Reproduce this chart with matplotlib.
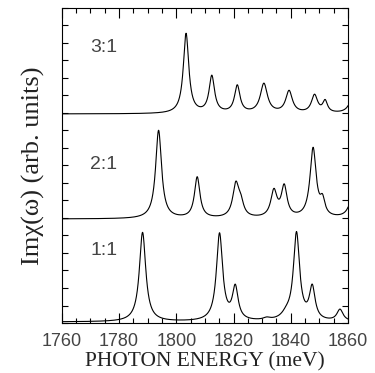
import numpy as np
import matplotlib
matplotlib.use("Agg")
import matplotlib.pyplot as plt
from matplotlib.ticker import MultipleLocator

# Peak parameters (position meV, height arb., half-width meV)
pos_31 = [1803.4, 1812.4, 1821.3, 1830.6, 1839.4, 1848.3, 1852.0, 1862.0]
amp_31 = [0.76, 0.35, 0.26, 0.28, 0.21, 0.17, 0.11, 0.20]
wid_31 = [1.15, 1.15, 1.15, 1.5, 1.4, 1.3, 1.0, 1.5]
base_31 = 1.99

pos_21 = [1793.8, 1807.3, 1820.8, 1822.5, 1834.1, 1837.7, 1847.8, 1851.1, 1862.0]
amp_21 = [0.84, 0.39, 0.31, 0.12, 0.25, 0.29, 0.66, 0.14, 0.28]
wid_21 = [1.25, 1.15, 1.3, 1.2, 1.3, 1.2, 1.3, 1.0, 1.5]
base_21 = 0.99

pos_11 = [1788.2, 1815.1, 1820.6, 1831.6, 1838.5, 1842.0, 1847.5, 1857.2]
amp_11 = [0.85, 0.83, 0.31, 0.02, 0.05, 0.83, 0.31, 0.11]
wid_11 = [1.35, 1.3, 1.2, 1.5, 2.0, 1.3, 1.2, 1.3]
base_11 = 0.01

labels = ["3:1", "2:1", "1:1"]
label_y = [2.62, 1.51, 0.695]
xticks = [1760, 1780, 1800, 1820, 1840, 1860]

energy = np.linspace(1760, 1860, 2001)


def spectrum(base, pos, amp, wid):
    y = np.full_like(energy, base)
    for p, a, w in zip(pos, amp, wid):
        y += a * w**2 / ((energy - p) ** 2 + w**2)
    return y


fig = plt.figure(figsize=(3.75, 3.73), dpi=100)
ax = fig.add_axes([0.165, 0.134, 0.763, 0.845])

for base, pos, amp, wid in [(base_31, pos_31, amp_31, wid_31),
                            (base_21, pos_21, amp_21, wid_21),
                            (base_11, pos_11, amp_11, wid_11)]:
    ax.plot(energy, spectrum(base, pos, amp, wid), color="black", lw=0.8)

for lab, yy in zip(labels, label_y):
    ax.text(1774.7, yy, lab, ha="center", va="center", fontsize=14,
            family=["Liberation Sans", "DejaVu Sans"],
            color="#444444")

ax.set_xlim(1760, 1860)
ax.set_ylim(0, 3)
ax.set_xticks(xticks)
ax.xaxis.set_minor_locator(MultipleLocator(5))
ax.yaxis.set_major_locator(MultipleLocator(1 / 6))
ax.set_yticklabels([])
ax.tick_params(axis="both", which="both", direction="in", top=True, right=True,
               width=0.8, colors="black")
ax.tick_params(axis="x", which="major", length=7)
ax.tick_params(axis="x", which="minor", length=3.5)
ax.tick_params(axis="y", which="major", length=4)
ax.tick_params(axis="x", which="major", pad=7)
for lbl in ax.get_xticklabels():
    lbl.set_family(["Liberation Sans", "DejaVu Sans"])
    lbl.set_fontsize(13)
    lbl.set_color("#444444")
for s in ax.spines.values():
    s.set_linewidth(0.8)

ax.set_xlabel("PHOTON ENERGY (meV)", family="Liberation Serif", fontsize=15.5,
              labelpad=2, color="#222222")
ax.set_ylabel("Im\u03c7(\u03c9) (arb. units)", family="Liberation Serif",
              fontsize=19, labelpad=9, color="#222222")

fig.savefig("out.png", dpi=100)
